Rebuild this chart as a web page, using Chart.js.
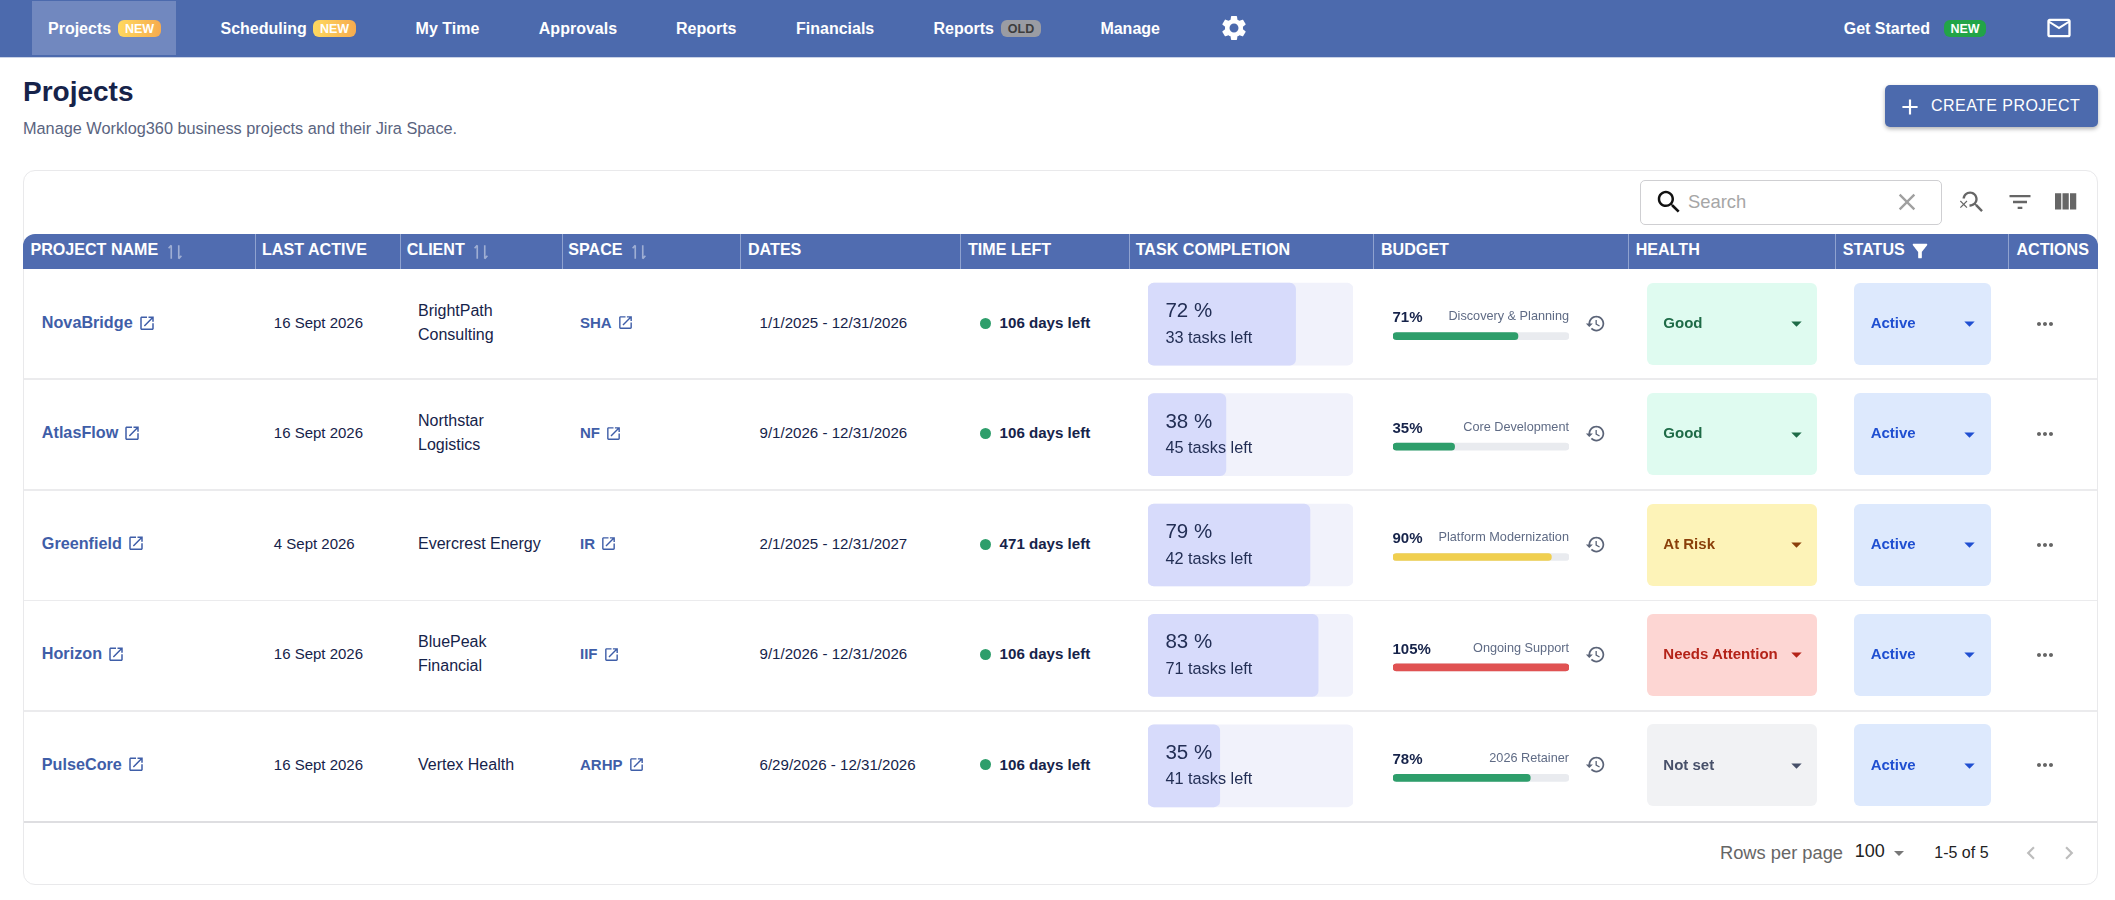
<!DOCTYPE html>
<html>
<head>
<meta charset="utf-8">
<title>Projects</title>
<script src="https://cdn.jsdelivr.net/npm/chart.js@4"></script>
<style>
    html, body { margin: 0; padding: 0; background: #fff; }
    body { width: 2115px; height: 900px; position: relative; overflow: hidden; font-family: "Liberation Sans", Arial, sans-serif; color: #16234a; }
    .box, .txt, svg, canvas { position: absolute; }
    .txt { white-space: nowrap; transform: translateY(-50%); line-height: 1.2; }
    .link { display: flex; align-items: center; gap: 5px; font-weight: 700; color: #3f5ea8; }
    .link svg { position: static; }
</style>
</head>
<body>
<script>
const navItems = ['Projects', 'Scheduling', 'My Time', 'Approvals', 'Reports', 'Financials', 'Reports', 'Manage'];
const navBadges = ['NEW', 'NEW', '', '', '', '', 'OLD', ''];
const columnNames = ['PROJECT NAME', 'LAST ACTIVE', 'CLIENT', 'SPACE', 'DATES', 'TIME LEFT', 'TASK COMPLETION', 'BUDGET', 'HEALTH', 'STATUS', 'ACTIONS'];

const projectNames = ['NovaBridge', 'AtlasFlow', 'Greenfield', 'Horizon', 'PulseCore'];
const lastActive = ['16 Sept 2026', '16 Sept 2026', '4 Sept 2026', '16 Sept 2026', '16 Sept 2026'];
const clients = [['BrightPath', 'Consulting'], ['Northstar', 'Logistics'], ['Evercrest Energy'], ['BluePeak', 'Financial'], ['Vertex Health']];
const spaces = ['SHA', 'NF', 'IR', 'IIF', 'ARHP'];
const dateRanges = ['1/1/2025 - 12/31/2026', '9/1/2026 - 12/31/2026', '2/1/2025 - 12/31/2027', '9/1/2026 - 12/31/2026', '6/29/2026 - 12/31/2026'];
const daysLeft = [106, 106, 471, 106, 106];
const taskPercent = [72, 38, 79, 83, 35];
const tasksLeft = [33, 45, 42, 71, 41];
const budgetPercent = [71, 35, 90, 105, 78];
const budgetNames = ['Discovery & Planning', 'Core Development', 'Platform Modernization', 'Ongoing Support', '2026 Retainer'];
const healthLabels = ['Good', 'Good', 'At Risk', 'Needs Attention', 'Not set'];
const statusLabels = ['Active', 'Active', 'Active', 'Active', 'Active'];

const NAVY = '#16234a';
const BLUE = '#4c6aad';
const healthStyles = {
    'Good': { bg: '#dffbf0', fg: '#1e6b47' },
    'At Risk': { bg: '#fdf3b8', fg: '#8a3f0a' },
    'Needs Attention': { bg: '#fdd6d3', fg: '#b42318' },
    'Not set': { bg: '#f1f2f4', fg: '#475069' }
};
const ICONS = {
    gear: 'M19.14 12.94c.04-.3.06-.61.06-.94 0-.32-.02-.64-.07-.94l2.03-1.58c.18-.14.23-.41.12-.61l-1.92-3.32c-.12-.22-.37-.29-.59-.22l-2.39.96c-.5-.38-1.03-.7-1.62-.94l-.36-2.54c-.04-.24-.24-.41-.48-.41h-3.84c-.24 0-.43.17-.47.41l-.36 2.54c-.59.24-1.13.57-1.62.94l-2.39-.96c-.22-.08-.47 0-.59.22L2.74 8.87c-.12.21-.08.47.12.61l2.03 1.58c-.05.3-.09.63-.09.94s.02.64.07.94l-2.03 1.58c-.18.14-.23.41-.12.61l1.92 3.32c.12.22.37.29.59.22l2.39-.96c.5.38 1.03.7 1.62.94l.36 2.54c.05.24.24.41.48.41h3.84c.24 0 .44-.17.47-.41l.36-2.54c.59-.24 1.13-.56 1.62-.94l2.39.96c.22.08.47 0 .59-.22l1.92-3.32c.12-.22.07-.47-.12-.61l-2.01-1.58zM12 15.6c-1.98 0-3.6-1.62-3.6-3.6s1.62-3.6 3.6-3.6 3.6 1.62 3.6 3.6-1.62 3.6-3.6 3.6z',
    mail: 'M20 4H4c-1.1 0-1.99.9-1.99 2L2 18c0 1.1.9 2 2 2h16c1.1 0 2-.9 2-2V6c0-1.1-.9-2-2-2zm0 14H4V8l8 5 8-5v10zm-8-7L4 6h16l-8 5z',
    add: 'M19 13h-6v6h-2v-6H5v-2h6V5h2v6h6v2z',
    search: 'M15.5 14h-.79l-.28-.27C15.41 12.59 16 11.11 16 9.5 16 5.91 13.09 3 9.5 3S3 5.91 3 9.5 5.91 16 9.5 16c1.61 0 3.09-.59 4.23-1.57l.27.28v.79l5 4.99L20.49 19l-4.99-5zm-6 0C7.01 14 5 11.99 5 9.5S7.01 5 9.5 5 14 7.01 14 9.5 11.99 14 9.5 14z',
    clear: 'M19 6.41 17.59 5 12 10.59 6.41 5 5 6.41 10.59 12 5 17.59 6.41 19 12 13.41 17.59 19 19 17.59 13.41 12z',
    searchOff: 'M15.5 14h-.79l-.28-.27C15.41 12.59 16 11.11 16 9.5 16 5.91 13.09 3 9.5 3 6.08 3 3.28 5.64 3.03 9h2.02C5.3 6.75 7.18 5 9.5 5 11.99 5 14 7.01 14 9.5S11.99 14 9.5 14c-.17 0-.33-.03-.5-.05v2.02c.17.02.33.03.5.03 1.61 0 3.09-.59 4.23-1.57l.27.28v.79l5 4.99L20.49 19l-4.99-5zM6.47 10.82 4 13.29 1.53 10.82.82 11.53 3.29 14 .82 16.47l.71.71L4 14.71l2.47 2.47.71-.71L4.71 14l2.47-2.47z',
    filterList: 'M10 18h4v-2h-4v2zM3 6v2h18V6H3zm3 7h12v-2H6v2z',
    columns: 'M10 18h5V5h-5v13zm-6 0h5V5H4v13zM16 5v13h5V5h-5z',
    funnel: 'M4.25 5.61C6.27 8.2 10 13 10 13v6c0 .55.45 1 1 1h2c.55 0 1-.45 1-1v-6s3.72-4.8 5.74-7.39c.51-.66.04-1.61-.79-1.61H5.04c-.83 0-1.3.95-.79 1.61z',
    launch: 'M19 19H5V5h7V3H5c-1.11 0-2 .9-2 2v14c0 1.1.89 2 2 2h14c1.1 0 2-.9 2-2v-7h-2v7zM14 3v2h3.59l-9.83 9.83 1.41 1.41L19 6.41V10h2V3h-7z',
    history: 'M13 3c-4.97 0-9 4.03-9 9H1l3.89 3.89.07.14L9 12H6c0-3.87 3.13-7 7-7s7 3.13 7 7-3.13 7-7 7c-1.93 0-3.68-.79-4.94-2.06l-1.42 1.42C8.27 19.99 10.51 21 13 21c4.97 0 9-4.03 9-9s-4.03-9-9-9zm-1 5v5l4.28 2.54.72-1.21-3.5-2.08V8H12z',
    arrowDown: 'M7 10l5 5 5-5z',
    more: 'M6 10c-1.1 0-2 .9-2 2s.9 2 2 2 2-.9 2-2-.9-2-2-2zm12 0c-1.1 0-2 .9-2 2s.9 2 2 2 2-.9 2-2-.9-2-2-2zm-6 0c-1.1 0-2 .9-2 2s.9 2 2 2 2-.9 2-2-.9-2-2-2z',
    chevronLeft: 'M15.41 7.41 14 6l-6 6 6 6 1.41-1.41L10.83 12z',
    chevronRight: 'M10 6 8.59 7.41 13.17 12l-4.58 4.59L10 18l6-6z',
    sort: 'M7 3v18M7 3 3.5 7M17 21V3M17 21l3.5-4'
};

// row geometry, all rows have the same height
const TABLE_TOP = 268.5;
const ROW_H = 110.4;
const TEXT_NUDGE = 0.8;
const rowCenter = i => TABLE_TOP + ROW_H * (i + 0.5);

function box(x, y, w, h, css = '') {
    const el = document.createElement('div');
    el.className = 'box';
    el.style.cssText = `left:${x}px;top:${y}px;width:${w}px;height:${h}px;${css}`;
    document.body.appendChild(el);
    return el;
}

function text(x, y, str, size, css = '') {
    const el = document.createElement('div');
    el.className = 'txt';
    el.textContent = str;
    el.style.cssText = `left:${x}px;top:${y}px;font-size:${size}px;${css}`;
    document.body.appendChild(el);
    return el;
}

function iconSvg(name, size, color) {
    const filled = name !== 'sort';
    const paint = filled ? `fill="${color}"` : `fill="none" stroke="${color}" stroke-width="2.2"`;
    return `<svg xmlns="http://www.w3.org/2000/svg" width="${size}" height="${size}" viewBox="0 0 24 24"><path ${paint} d="${ICONS[name]}"/></svg>`;
}

function icon(name, cx, cy, size, color) {
    const holder = document.createElement('div');
    holder.innerHTML = iconSvg(name, size, color);
    const svg = holder.firstChild;
    svg.style.left = (cx - size / 2) + 'px';
    svg.style.top = (cy - size / 2) + 'px';
    document.body.appendChild(svg);
}

function linkText(x, y, str, size, iconSize) {
    const el = text(x, y, '', size);
    el.classList.add('link');
    el.innerHTML = `<span>${str}</span>${iconSvg('launch', iconSize, '#3f5ea8')}`;
}

function badge(x, w, str, css) {
    box(x, 20, w, 17, `border-radius:6px;${css}`);
    const el = text(x, 28.5, str, 12.5, 'font-weight:700;text-align:center;');
    el.style.width = w + 'px';
    el.style.color = css.includes('#9a9ca3') ? '#3d3d3d' : '#fff';
}

function renderNav() {
    box(0, 0, 2115, 57, `background:${BLUE};border-bottom:1px solid #c9d2e6;`);
    box(32, 1, 144, 54, 'background:#7188bf;');

    const navX = [48, 220.5, 415.6, 538.8, 676, 796, 933.5, 1100.4];
    const badgeX = { 0: 118, 1: 313, 6: 1001 };
    navItems.forEach((label, i) => {
        text(navX[i], 28.5, label, 16, 'font-weight:700;color:#fff;');
        if (navBadges[i] === 'NEW') badge(badgeX[i], 43, 'NEW', 'background:linear-gradient(90deg,#ffd95f,#f6ab4e);');
        if (navBadges[i] === 'OLD') badge(badgeX[i], 40, 'OLD', 'background:#9a9ca3;');
    });
    icon('gear', 1233.5, 28, 30, '#fff');

    text(1843.7, 28.5, 'Get Started', 16, 'font-weight:700;color:#fff;');
    badge(1944, 42, 'NEW', 'background:#22a447;');
    icon('mail', 2059.4, 28, 28, '#fff');
}

function renderTitle() {
    text(23, 92, 'Projects', 28, `font-weight:700;color:${NAVY};`);
    text(23, 128.7, 'Manage Worklog360 business projects and their Jira Space.', 16.3, 'color:#5a6480;');
    box(1885, 85, 213, 42, `background:${BLUE};border-radius:5px;box-shadow:0 2px 4px rgba(0,0,0,.3);`);
    icon('add', 1910, 106.5, 26, '#fff');
    text(1931, 106, 'CREATE PROJECT', 16, 'color:#fff;letter-spacing:.45px;');
}

function renderCard() {
    box(23, 169.5, 2075, 715.5, 'box-sizing:border-box;border:1.5px solid #e9e9eb;border-radius:12px;');
    box(1640, 179.5, 302, 45, 'box-sizing:border-box;border:1.5px solid #cfcfd2;border-radius:5px;');
    icon('search', 1669, 201.5, 30, '#111');
    text(1688, 201.5, 'Search', 18.4, 'color:#a6a6a6;');
    icon('clear', 1907, 201.5, 28, '#a0a0a0');
    icon('searchOff', 1973, 201.5, 28, '#666');
    icon('filterList', 2020, 201.5, 28, '#666');
    icon('columns', 2065, 201.5, 30, '#666');
}

function renderHeader() {
    box(23, 233.5, 2075, 35, 'background:#506cb0;border-radius:12px 12px 0 0;');
    const colEdges = [254.5, 399.5, 561.6, 740, 960.3, 1128.6, 1373, 1628, 1835, 2008.3];
    colEdges.forEach(x => box(x, 233.5, 1, 35, 'background:#8fa2cf;'));

    const headX = [30.4, 262, 406.7, 568.3, 748, 968, 1135.7, 1381, 1635.7, 1842.8, 2016.5];
    columnNames.forEach((name, i) => text(headX[i], 249.5, name, 16.1, 'font-weight:700;color:#fff;'));

    [174.5, 480.5, 638.5].forEach(x => icon('sort', x, 251.5, 18, 'rgba(255,255,255,.45)'));
    icon('funnel', 1919.5, 251, 22, '#fff');
}

function renderRows() {
    const lineY = [378.3, 489.3, 599.5, 710, 820.5];
    lineY.forEach((y, i) => box(24, y, 2073, i === 4 ? 2 : 1.5, `background:${i === 4 ? '#dedee1' : '#ebebed'};`));

    projectNames.forEach((name, i) => {
        const cy = rowCenter(i);
        const ty = cy - TEXT_NUDGE;
        linkText(41.8, ty, name, 16.2, 18);
        text(273.8, ty, lastActive[i], 15);

        if (clients[i].length === 2) {
            text(418, ty - 12, clients[i][0], 16);
            text(418, ty + 12, clients[i][1], 16);
        } else {
            text(418, ty, clients[i][0], 16);
        }

        linkText(580, ty, spaces[i], 15, 17);
        text(759.5, ty, dateRanges[i], 15.1);

        box(979.5, cy - 6, 11, 11, 'background:#2e9e6b;border-radius:50%;');
        text(999.6, ty, `${daysLeft[i]} days left`, 15.1, 'font-weight:700;');

        // text on top of the task bars
        text(1165.4, cy - 13.5, `${taskPercent[i]} %`, 20.5, 'color:#232f55;');
        text(1165.4, cy + 14, `${tasksLeft[i]} tasks left`, 16.3, 'color:#232f55;');

        text(1392.5, cy - 6.3, `${budgetPercent[i]}%`, 15, 'font-weight:700;');
        const label = text(0, cy - 6.3, budgetNames[i], 12.7, 'color:#5f6b85;');
        label.style.left = 'auto';
        label.style.right = (2115 - 1569) + 'px';
        icon('history', 1595, cy - 0.5, 21, '#5b6478');

        const health = healthStyles[healthLabels[i]];
        box(1647, cy - 41, 170, 82, `background:${health.bg};border-radius:6px;`);
        text(1663.3, ty, healthLabels[i], 15, `font-weight:700;color:${health.fg};`);
        icon('arrowDown', 1796, cy, 25, health.fg);

        box(1854, cy - 41, 137, 82, 'background:#dde9fd;border-radius:6px;');
        text(1870.7, ty, statusLabels[i], 15, 'font-weight:700;color:#1f4fd1;');
        icon('arrowDown', 1969.3, cy, 25, '#1f4fd1');

        icon('more', 2045, cy, 24, '#666');
    });
}

function renderFooter() {
    text(1720, 853, 'Rows per page', 18.3, 'color:#666;');
    text(1854.7, 852, '100', 18, 'color:#222;');
    icon('arrowDown', 1898.7, 853, 24, '#777');
    text(1934.3, 853, '1-5 of 5', 16, 'color:#222;');
    icon('chevronLeft', 2030.7, 853, 26, '#bdbdbd');
    icon('chevronRight', 2069.3, 853, 26, '#bdbdbd');
}

// horizontal bars over a full-width track, one category per table row
function makeBarChart(x, y, w, h, values, colors, trackColor, thickness, radius) {
    const canvas = document.createElement('canvas');
    canvas.width = w;
    canvas.height = h;
    canvas.style.cssText = `left:${x}px;top:${y}px;width:${w}px;height:${h}px;`;
    document.body.appendChild(canvas);

    return new Chart(canvas.getContext('2d'), {
        type: 'bar',
        data: {
            labels: projectNames,
            datasets: [
                { data: values, backgroundColor: colors, order: 1, grouped: false, barThickness: thickness, borderRadius: radius, borderSkipped: false },
                { data: projectNames.map(() => 100), backgroundColor: trackColor, order: 2, grouped: false, barThickness: thickness, borderRadius: radius, borderSkipped: false }
            ]
        },
        options: {
            indexAxis: 'y',
            responsive: false,
            animation: false,
            events: [],
            layout: { padding: 0 },
            plugins: { legend: { display: false }, tooltip: { enabled: false } },
            scales: {
                x: { display: false, min: 0, max: 100 },
                y: { display: false }
            }
        }
    });
}

function budgetColor(value) {
    if (value > 100) return '#e05252';
    if (value >= 90) return '#f0cf4f';
    return '#2e9e6b';
}

renderNav();
renderTitle();
renderCard();
renderHeader();

makeBarChart(1147.5, TABLE_TOP, 205.5, ROW_H * 5, taskPercent, '#d7dbfb', '#f1f2fb', 82, 6);
// the budget track stops at 100 even when a project is over budget
makeBarChart(1392.5, TABLE_TOP + 12.5, 176.5, ROW_H * 5, budgetPercent.map(v => Math.min(v, 100)), budgetPercent.map(budgetColor), '#e9ebef', 7, 3.5);

renderRows();
renderFooter();
</script>
</body>
</html>
